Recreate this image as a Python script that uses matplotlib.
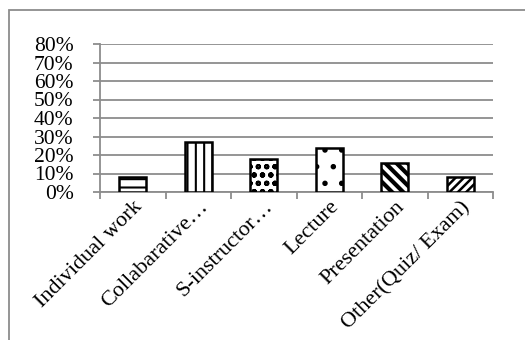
import matplotlib.pyplot as plt
from matplotlib.patches import Rectangle
from matplotlib.ticker import PercentFormatter
import numpy as np

categories = ['Individual work', 'Collabarative\u2026', 'S-instructor\u2026',
              'Lecture', 'Presentation', 'Other(Quiz/ Exam)']
values = [0.08, 0.27, 0.18, 0.24, 0.155, 0.08]
hatches = ['--', '||', 'oo', '.', '\\\\\\', '////']
hatch_lw = [1.5, 1.5, 1.5, 1.5, 3.0, 1.8]

plt.rcParams['font.family'] = ['Liberation Serif', 'DejaVu Serif']

GRAY = '#8c8c8c'

fig = plt.figure(figsize=(5.25, 3.4), dpi=100)
ax = fig.add_axes([100/525, 1 - 192/340, 393/525, 148/340])

x = np.arange(len(categories))
for i, (v, h) in enumerate(zip(values, hatches)):
    with plt.rc_context({'hatch.linewidth': hatch_lw[i]}):
        ax.bar(x[i], v, width=0.41, color='white', edgecolor='black',
               linewidth=1.8, hatch=h, zorder=3)

ax.set_xlim(-0.5, len(categories) - 0.5)
ax.set_ylim(0, 0.8)
ax.set_yticks(np.arange(0, 0.81, 0.1))
ax.yaxis.set_major_formatter(PercentFormatter(1.0, decimals=0))
ax.yaxis.grid(True, color=GRAY, linewidth=1.3, zorder=0)
ax.set_axisbelow(True)

for s in ['top', 'right']:
    ax.spines[s].set_visible(False)
for s in ['left', 'bottom']:
    ax.spines[s].set_color(GRAY)
    ax.spines[s].set_linewidth(1.3)

# labels are packed tightly, as in the source chart
ax.tick_params(axis='y', colors=GRAY, labelcolor='black', labelsize=15.5,
               length=5, width=1.3, pad=14)
ax.set_xticks(x)
ax.set_xticklabels(categories, rotation=45, ha='right', rotation_mode='anchor',
                   fontsize=16)
ax.tick_params(axis='x', which='major', length=0, pad=4)
ax.set_xticks(np.arange(-0.5, len(categories), 1.0), minor=True)
ax.tick_params(axis='x', which='minor', length=5, width=1.3, color=GRAY)

# outer chart frame
fig.patches.append(Rectangle((9/525, -0.2), 2, 1 - 10/340 + 0.2,
                             transform=fig.transFigure, fill=False,
                             edgecolor=GRAY, linewidth=1.3))

fig.savefig('out.png', dpi=100)
